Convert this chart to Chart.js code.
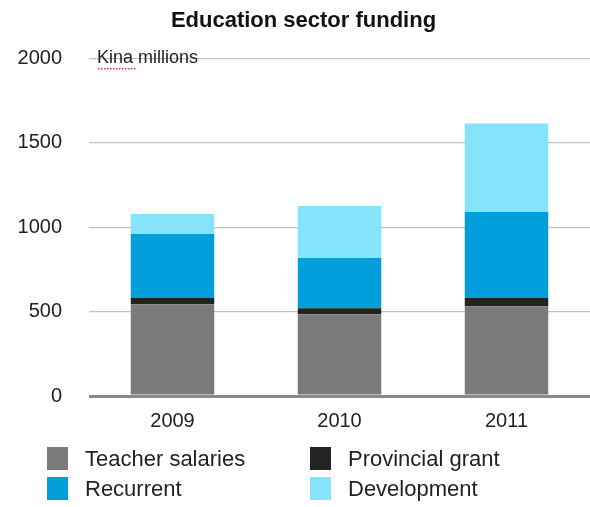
<!DOCTYPE html>
<html>
<head>
<meta charset="utf-8">
<script src="https://cdn.jsdelivr.net/npm/chart.js@4"></script>
<style>
  html, body { margin: 0; padding: 0; background: #fff; }
  #wrap { width: 590px; height: 507px; position: relative; }
</style>
</head>
<body>
<div id="wrap"><canvas id="chart"></canvas></div>
<script>
// Education sector funding, Kina millions
const years = ['2009', '2010', '2011'];
const teacherSalaries = [544, 485, 532];
const provincialGrant = [36, 35, 48];
const recurrent = [379, 297, 510];
const development = [119, 309, 524];
const seriesNames = ['Teacher salaries', 'Provincial grant', 'Recurrent', 'Development'];
const seriesColors = ['#7b7b7b', '#232323', '#009fdc', '#86e3fc'];
const yTicks = [0, 500, 1000, 1500, 2000];

const FONT = '"Liberation Sans", Arial, Helvetica, sans-serif';

/* ── unit note + two-column legend ── */
const extras = {
    id: 'extras',
    afterDraw(chart) {
        const ctx = chart.ctx;
        ctx.save();
        // unit note sitting on the top gridline
        ctx.font = `18px ${FONT}`;
        ctx.fillStyle = '#222';
        ctx.textBaseline = 'middle';
        ctx.textAlign = 'left';
        ctx.fillText('Kina millions', 97, 58);
        // dotted red underline under "Kina"
        ctx.fillStyle = '#e23b3b';
        for (let x = 98; x < 135; x += 3) ctx.fillRect(x, 68, 1.5, 1.5);

        // legend, order: Teacher, Provincial / Recurrent, Development
        const order = [0, 1, 2, 3];
        const colX = [47, 310];
        const rowY = [459, 489];
        ctx.font = `22px ${FONT}`;
        order.forEach((idx, i) => {
            const ds = chart.data.datasets[idx];
            const x = colX[i % 2];
            const y = rowY[Math.floor(i / 2)];
            ctx.fillStyle = ds.backgroundColor;
            ctx.fillRect(x, y - 12, 21, 23);
            ctx.fillStyle = '#222';
            ctx.textBaseline = 'middle';
            ctx.fillText(ds.label, x + 38, y + 1);
        });
        ctx.restore();
    }
};

const values = [teacherSalaries, provincialGrant, recurrent, development];

new Chart(document.getElementById('chart'), {
    type: 'bar',
    data: {
        labels: years,
        datasets: values.map((v, i) => ({
            label: seriesNames[i],
            data: v,
            backgroundColor: seriesColors[i],
            borderWidth: 0,
            categoryPercentage: 1,
            barPercentage: 0.5,
        }))
    },
    options: {
        responsive: true,
        maintainAspectRatio: false,
        animation: false,
        layout: { padding: { left: 17, right: 0, top: 0, bottom: 69 } },
        plugins: {
            legend: { display: false },
            tooltip: { enabled: false },
            title: {
                display: true,
                text: 'Education sector funding',
                color: '#111',
                font: { family: FONT, size: 22, weight: 'bold' },
                padding: { top: 8, bottom: 24 },
                align: 'center'
            }
        },
        scales: {
            x: {
                stacked: true,
                grid: { display: false },
                border: { display: false },
                ticks: { color: '#222', font: { family: FONT, size: 20 }, padding: 5 }
            },
            y: {
                stacked: true,
                min: 0,
                max: 2000,
                afterBuildTicks: (axis) => { axis.ticks = yTicks.map(v => ({ value: v })); },
                afterFit: (axis) => { axis.width = 72; },
                border: { display: false },
                grid: {
                    drawTicks: false,
                    color: (c) => c.tick && c.tick.value === 0 ? '#8a8a8a' : '#c2c2c2',
                    lineWidth: (c) => c.tick && c.tick.value === 0 ? 3 : 1.2
                },
                ticks: {
                    color: '#222',
                    font: { family: FONT, size: 20 },
                    padding: 27,
                    callback: (v) => String(v)
                }
            }
        }
    },
    plugins: [extras]
});
</script>
</body>
</html>
